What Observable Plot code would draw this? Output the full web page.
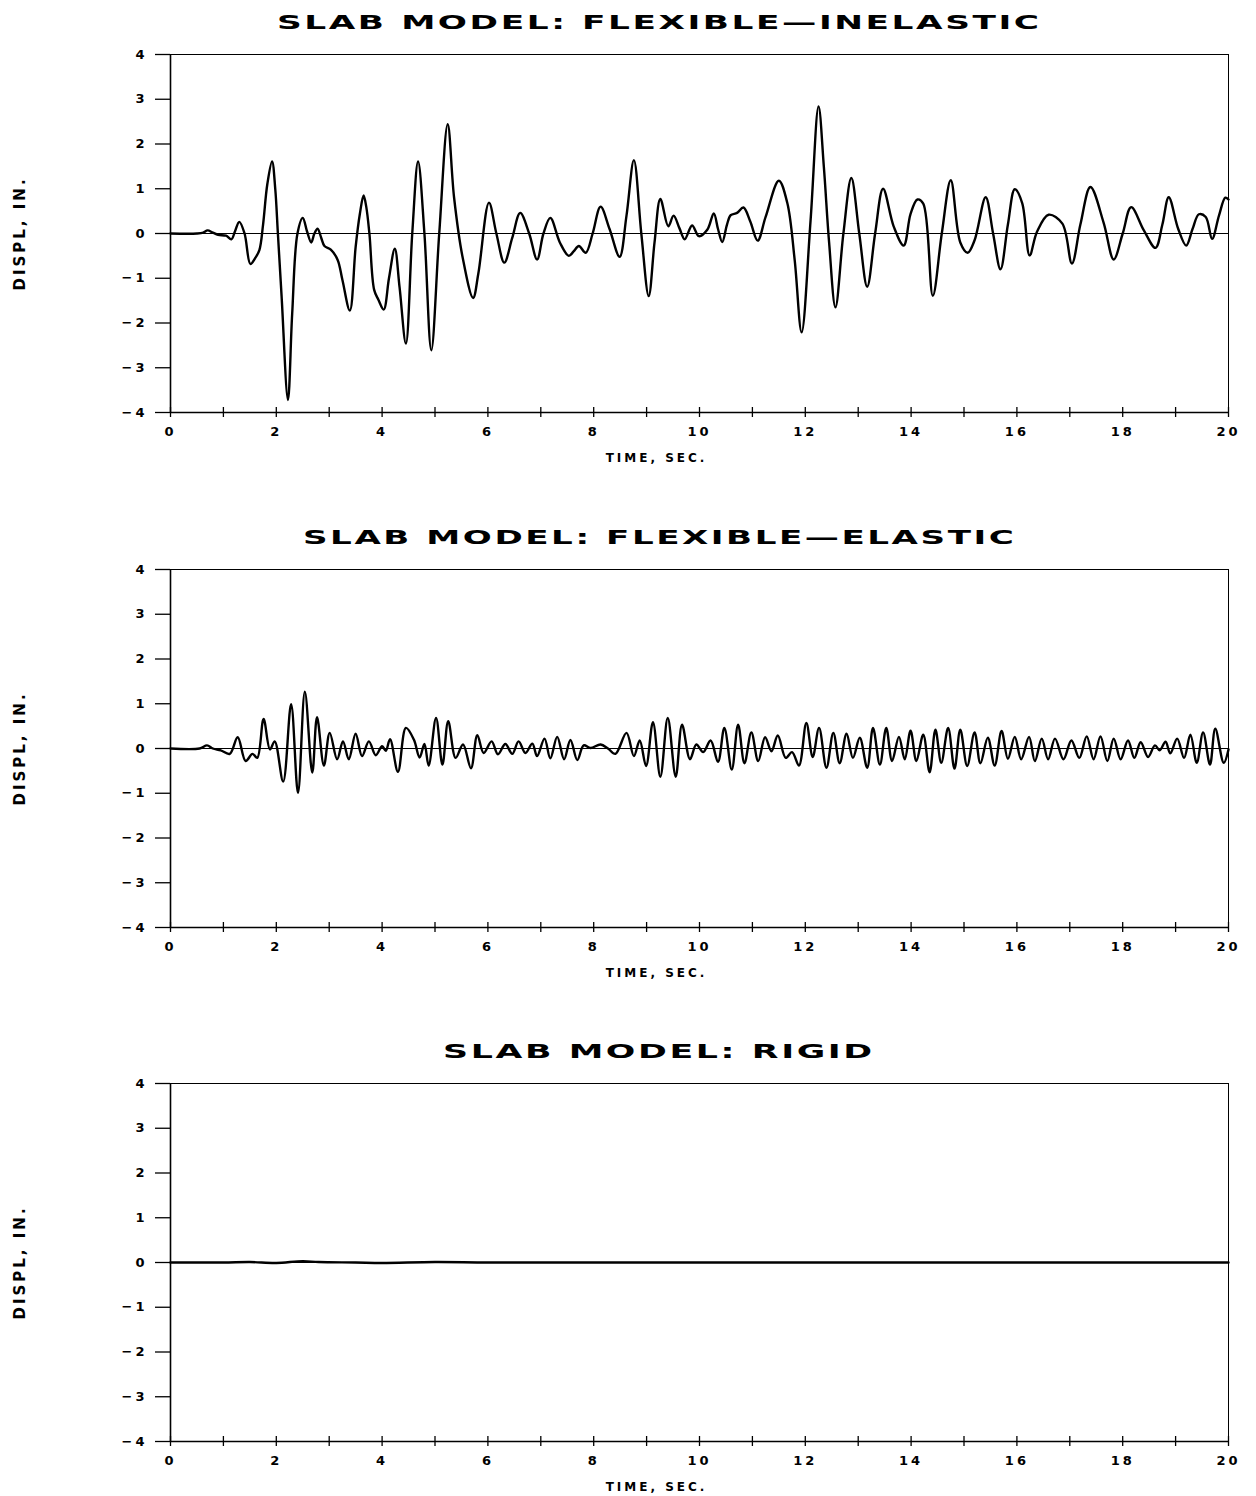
<!DOCTYPE html>
<html>
<head>
<meta charset="utf-8">
<script src="https://cdn.jsdelivr.net/npm/d3@7"></script>
<script src="https://cdn.jsdelivr.net/npm/@observablehq/plot@0.6"></script>
<style>
html, body { margin: 0; padding: 0; background: #fff; overflow: hidden; }
#root { position: relative; width: 1256px; height: 1496px; background: #fff; }
.title { position: absolute; white-space: nowrap; font-family: "DejaVu Sans"; font-weight: bold;
  font-size: 20px; letter-spacing: 1.5px; line-height: 1; color: #000; transform-origin: 0 50%; }
.panel { position: absolute; left: 0; }
</style>
</head>
<body>
<div id="root"></div>
<script>
// ---------- data ----------
const titles = ["SLAB MODEL: FLEXIBLE\u2014INELASTIC", "SLAB MODEL: FLEXIBLE\u2014ELASTIC", "SLAB MODEL: RIGID"];
const xLabel = "TIME, SEC.";
const yLabel = "DISPL, IN.";
const xTickLabels = [0, 2, 4, 6, 8, 10, 12, 14, 16, 18, 20];
const xMinorTicks = [0, 1, 2, 3, 4, 5, 6, 7, 8, 9, 10, 11, 12, 13, 14, 15, 16, 17, 18, 19, 20];
const yTicks = [-4, -3, -2, -1, 0, 1, 2, 3, 4];

// Flexible-inelastic
const t1 = [0, 0.5, 0.62, 0.7, 0.8, 0.9, 1.05, 1.15, 1.22, 1.3, 1.4, 1.51, 1.6, 1.68, 1.75, 1.83, 1.92, 1.98, 2.03, 2.1, 2.22, 2.3, 2.4, 2.5, 2.58, 2.66, 2.72, 2.78, 2.85, 2.91, 3.03, 3.16, 3.25, 3.39, 3.5, 3.58, 3.65, 3.7, 3.76, 3.85, 3.93, 4.03, 4.13, 4.24, 4.33, 4.45, 4.57, 4.68, 4.8, 4.93, 5.08, 5.24, 5.36, 5.52, 5.72, 5.82, 6.02, 6.16, 6.31, 6.46, 6.61, 6.78, 6.93, 7.05, 7.18, 7.36, 7.53, 7.62, 7.72, 7.85, 7.98, 8.13, 8.3, 8.49, 8.62, 8.76, 8.9, 9.04, 9.15, 9.26, 9.41, 9.51, 9.62, 9.72, 9.86, 9.99, 10.15, 10.27, 10.35, 10.43, 10.52, 10.59, 10.71, 10.83, 10.96, 11.1, 11.25, 11.5, 11.66, 11.8, 11.93, 12.1, 12.25, 12.35, 12.45, 12.57, 12.72, 12.87, 13.02, 13.17, 13.32, 13.47, 13.67, 13.86, 13.99, 14.12, 14.23, 14.41, 14.58, 14.75, 14.93, 15.07, 15.2, 15.41, 15.55, 15.69, 15.83, 15.96, 16.1, 16.24, 16.38, 16.6, 16.86, 17.04, 17.2, 17.39, 17.64, 17.83, 18.0, 18.16, 18.4, 18.62, 18.75, 18.87, 19.05, 19.2, 19.32, 19.44, 19.57, 19.69, 19.82, 19.94, 20];
const d1 = [0, 0, 0.02, 0.07, 0.02, -0.03, -0.05, -0.13, 0.05, 0.26, 0.0, -0.68, -0.55, -0.37, 0.2, 1.1, 1.61, 1.0, 0.0, -1.4, -3.72, -1.8, 0.0, 0.35, 0.05, -0.2, 0.0, 0.11, -0.1, -0.28, -0.36, -0.59, -1.04, -1.72, -0.3, 0.44, 0.85, 0.6, 0.0, -1.26, -1.48, -1.7, -1.0, -0.34, -1.2, -2.46, 0.0, 1.61, 0.0, -2.61, 0.0, 2.44, 0.81, -0.52, -1.44, -0.89, 0.69, 0.0, -0.65, -0.1, 0.46, 0.0, -0.58, 0.0, 0.35, -0.2, -0.5, -0.4, -0.28, -0.43, 0.0, 0.6, 0.1, -0.52, 0.4, 1.64, 0.0, -1.4, -0.2, 0.77, 0.16, 0.4, 0.12, -0.13, 0.18, -0.06, 0.09, 0.45, 0.1, -0.19, 0.2, 0.41, 0.46, 0.58, 0.27, -0.16, 0.37, 1.18, 0.68, -0.6, -2.21, 0.3, 2.84, 1.5, -0.2, -1.65, 0.0, 1.24, 0.0, -1.19, 0.0, 1.0, 0.16, -0.27, 0.44, 0.76, 0.67, -1.39, 0.0, 1.19, -0.2, -0.43, -0.15, 0.81, 0.0, -0.8, 0.2, 0.99, 0.68, -0.49, 0.04, 0.42, 0.22, -0.67, 0.2, 1.04, 0.24, -0.58, 0.0, 0.59, 0.07, -0.32, 0.2, 0.81, 0.1, -0.27, 0.1, 0.43, 0.37, -0.12, 0.4, 0.8, 0.76];

// Flexible-elastic
const t2 = [0, 0.55, 0.69, 0.8, 0.95, 1.12, 1.27, 1.42, 1.55, 1.64, 1.76, 1.88, 1.97, 2.13, 2.28, 2.41, 2.54, 2.68, 2.77, 2.9, 3.01, 3.15, 3.26, 3.37, 3.5, 3.62, 3.75, 3.88, 4.0, 4.07, 4.15, 4.3, 4.45, 4.6, 4.71, 4.8, 4.88, 5.02, 5.14, 5.25, 5.39, 5.53, 5.68, 5.8, 5.92, 6.07, 6.19, 6.33, 6.46, 6.58, 6.71, 6.84, 6.93, 7.07, 7.18, 7.31, 7.44, 7.56, 7.69, 7.81, 7.94, 8.13, 8.27, 8.41, 8.62, 8.76, 8.87, 8.99, 9.12, 9.26, 9.4, 9.55, 9.67, 9.82, 9.94, 10.07, 10.21, 10.35, 10.47, 10.61, 10.73, 10.85, 10.98, 11.11, 11.24, 11.36, 11.48, 11.63, 11.75, 11.88, 12.02, 12.14, 12.26, 12.4, 12.53, 12.65, 12.78, 12.9, 13.03, 13.17, 13.28, 13.41, 13.53, 13.64, 13.77, 13.88, 13.99, 14.1, 14.23, 14.35, 14.46, 14.57, 14.7, 14.82, 14.93, 15.06, 15.2, 15.31, 15.45, 15.58, 15.71, 15.83, 15.96, 16.08, 16.23, 16.34, 16.47, 16.59, 16.72, 16.88, 17.03, 17.18, 17.32, 17.45, 17.58, 17.71, 17.83, 17.96, 18.1, 18.22, 18.34, 18.48, 18.61, 18.7, 18.81, 18.9, 19.03, 19.16, 19.28, 19.4, 19.52, 19.65, 19.75, 19.91, 20];
const d2 = [0, 0, 0.07, 0.0, -0.04, -0.12, 0.25, -0.28, -0.12, -0.21, 0.66, -0.02, 0.16, -0.74, 0.99, -0.99, 1.27, -0.54, 0.7, -0.38, 0.35, -0.24, 0.16, -0.24, 0.33, -0.17, 0.16, -0.15, 0.05, -0.05, 0.21, -0.52, 0.46, 0.2, -0.2, 0.1, -0.38, 0.68, -0.36, 0.61, -0.21, 0.09, -0.44, 0.3, -0.1, 0.16, -0.13, 0.1, -0.12, 0.16, -0.1, 0.11, -0.17, 0.22, -0.22, 0.26, -0.24, 0.19, -0.26, 0.07, 0.01, 0.09, 0.0, -0.12, 0.35, -0.17, 0.18, -0.39, 0.59, -0.63, 0.68, -0.63, 0.53, -0.24, 0.09, -0.08, 0.18, -0.3, 0.46, -0.47, 0.53, -0.33, 0.36, -0.28, 0.25, -0.06, 0.29, -0.21, -0.08, -0.38, 0.57, -0.19, 0.46, -0.43, 0.35, -0.33, 0.33, -0.21, 0.24, -0.43, 0.46, -0.36, 0.46, -0.28, 0.26, -0.24, 0.4, -0.28, 0.31, -0.53, 0.42, -0.32, 0.46, -0.45, 0.42, -0.39, 0.36, -0.33, 0.24, -0.38, 0.39, -0.23, 0.26, -0.24, 0.26, -0.28, 0.22, -0.24, 0.22, -0.24, 0.18, -0.21, 0.27, -0.24, 0.27, -0.28, 0.22, -0.24, 0.18, -0.21, 0.14, -0.19, 0.07, -0.04, 0.15, -0.11, 0.22, -0.21, 0.31, -0.32, 0.36, -0.36, 0.44, -0.32, -0.02];

// Rigid
const t3 = [0, 1, 1.5, 2, 2.5, 2.8, 3.5, 4, 5, 6, 8, 10, 12, 14, 16, 18, 20];
const d3v = [0, 0, 0.01, -0.01, 0.03, 0.01, 0.0, -0.01, 0.01, 0, 0, 0, 0, 0, 0, 0, 0];

const series = [[t1, d1], [t2, d2], [t3, d3v]];

// ---------- layout ----------
const plotTops = [54, 569, 1083];
const mTop = 10, mBottom = 52, mLeft = 170, mRight = 28, innerH = 358;
const titleCenterX = 658, titleOffset = 33, titlePitch = 25.6;

const root = document.getElementById("root");

series.forEach(([t, v], i) => {
  const data = t.map((tt, k) => ({t: tt, v: v[k]}));
  const plot = Plot.plot({
    width: 1256,
    height: mTop + innerH + mBottom,
    marginTop: mTop, marginBottom: mBottom, marginLeft: mLeft, marginRight: mRight,
    x: {domain: [xMinorTicks[0], xMinorTicks[xMinorTicks.length - 1]]},
    y: {domain: [yTicks[0], yTicks[yTicks.length - 1]]},
    style: {fontFamily: "DejaVu Sans", fontSize: "13px", fontWeight: "bold", letterSpacing: "3px", color: "#000", background: "#fff"},
    marks: [
      Plot.frame({stroke: "#000", strokeWidth: 1}),
      Plot.ruleY([0], {stroke: "#000", strokeWidth: 1}),
      Plot.ruleX([xMinorTicks[0]], {stroke: "#000", strokeWidth: 1.6}),
      Plot.ruleY([yTicks[0]], {stroke: "#000", strokeWidth: 1.6}),
      Plot.ruleX(xMinorTicks, {x: d => d, y1: yTicks[0], y2: yTicks[0], insetTop: -5, insetBottom: -5, stroke: "#000", strokeWidth: 1.3}),
      Plot.axisY({ticks: yTicks, tickSize: 15, tickPadding: 8, label: null, strokeWidth: 1.3, fontSize: 13, fontWeight: "bold"}),
      Plot.axisX({ticks: xTickLabels, tickSize: 0, tickPadding: 14, label: null, fontSize: 13, fontWeight: "bold"}),
      Plot.text([xLabel], {text: d => d, frameAnchor: "bottom", textAnchor: "middle", lineAnchor: "middle", dx: -43, dy: 46, fontSize: 12, fontWeight: "bold", ariaLabel: "xlabel"}),
      Plot.text([yLabel], {text: d => d, frameAnchor: "left", textAnchor: "middle", lineAnchor: "middle", dx: -150, rotate: -90, fontSize: 15, fontWeight: "bold", ariaLabel: "ylabel"}),
      Plot.line(data, {x: "t", y: "v", curve: "catmull-rom", stroke: "#000", strokeWidth: 2.4})
    ]
  });
  plot.querySelectorAll('g[aria-label="ylabel"] text').forEach(el => el.style.letterSpacing = "1.5px");
  plot.querySelectorAll('g[aria-label="xlabel"] text').forEach(el => el.style.letterSpacing = "2.5px");
  plot.classList.add("panel");
  plot.style.top = (plotTops[i] - mTop) + "px";
  root.appendChild(plot);

  // title
  const span = document.createElement("div");
  span.className = "title";
  span.textContent = titles[i];
  root.appendChild(span);
  const w = span.getBoundingClientRect().width - 1.5;
  const target = titles[i].length * titlePitch - 6;
  const s = target / w;
  span.style.left = (titleCenterX - target / 2) + "px";
  span.style.top = (plotTops[i] - titleOffset - 9) + "px";
  span.style.transform = `scaleX(${s})`;
});
</script>
</body>
</html>
